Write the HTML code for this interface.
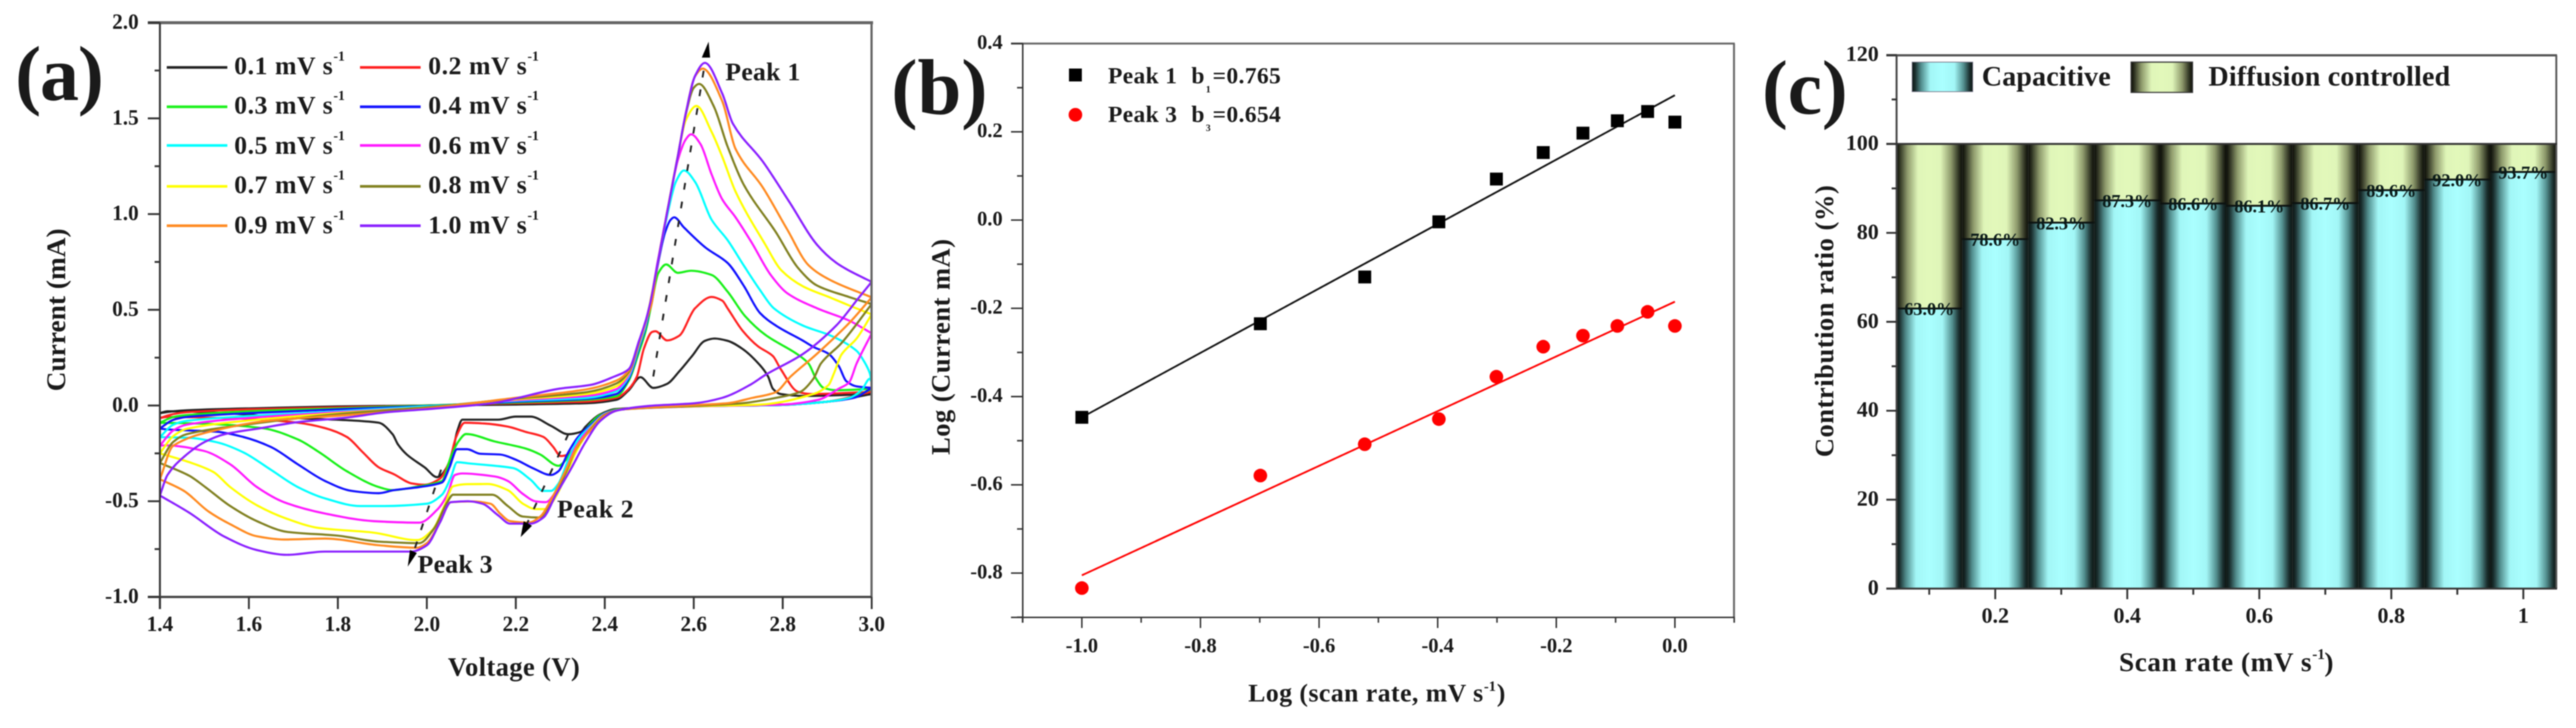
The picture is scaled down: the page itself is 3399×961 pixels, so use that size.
<!DOCTYPE html>
<html lang="en">
<head>
<meta charset="utf-8">
<title>Cyclic voltammetry kinetics figure</title>
<style>
html,body{margin:0;padding:0;background:#fff;width:3399px;height:961px;overflow:hidden}
svg{display:block;filter:blur(0.9px)}
text{font-family:"Liberation Serif",serif;font-weight:bold;fill:#1a1a1a}
</style>
</head>
<body>
<svg id="figure" xmlns="http://www.w3.org/2000/svg" width="3399" height="961" viewBox="0 0 3399 961">
<defs>
<linearGradient id="capGrad" x1="0" x2="1" y1="0" y2="0">
<stop offset="0" stop-color="#0c1512"/><stop offset="0.05" stop-color="#1a2e2e"/><stop offset="0.15" stop-color="#528e8e"/><stop offset="0.3" stop-color="#a2f6f6"/><stop offset="0.5" stop-color="#aaffff"/><stop offset="0.7" stop-color="#a2f6f6"/><stop offset="0.85" stop-color="#528e8e"/><stop offset="0.95" stop-color="#1a2e2e"/><stop offset="1" stop-color="#0c1512"/>
</linearGradient>
<linearGradient id="diffGrad" x1="0" x2="1" y1="0" y2="0">
<stop offset="0" stop-color="#0a0c06"/><stop offset="0.05" stop-color="#2c3020"/><stop offset="0.17" stop-color="#8e9a6c"/><stop offset="0.33" stop-color="#dff5b8"/><stop offset="0.5" stop-color="#e2f8ba"/><stop offset="0.67" stop-color="#dff5b8"/><stop offset="0.83" stop-color="#8e9a6c"/><stop offset="0.95" stop-color="#2c3020"/><stop offset="1" stop-color="#0a0c06"/>
</linearGradient>
<clipPath id="clipA"><rect x="211" y="30" width="939" height="758"/></clipPath>
</defs>

<!-- PANEL A -->
<g id="panelA">
<text x="20" y="132" font-size="103" textLength="117">(a)</text>
<g id="cvCurves" clip-path="url(#clipA)"></g>
<g id="cvLegend"></g>
<line x1="195" x2="1152" y1="30" y2="30" stroke="#666" stroke-width="4"/>
<line x1="1150" x2="1150" y1="30" y2="788" stroke="#666" stroke-width="3"/>
<line x1="211" x2="211" y1="30" y2="804" stroke="#333" stroke-width="2.5"/>
<line x1="195" x2="1150" y1="788" y2="788" stroke="#444" stroke-width="3"/>
<g id="cvTicks"></g>
<text transform="translate(86,409) rotate(-90)" text-anchor="middle" font-size="36" textLength="215">Current (mA)</text>
<text x="591" y="892" font-size="35" textLength="174">Voltage (V)</text>
<text x="957" y="106" font-size="34" textLength="99">Peak 1</text>
<text x="735" y="683" font-size="34" textLength="101">Peak 2</text>
<text x="551" y="756" font-size="34" textLength="99">Peak 3</text>
<g stroke="#222" fill="#000">
<line x1="862" y1="497" x2="931" y2="78" stroke-width="2.5" stroke-dasharray="9 16" fill="none"/>
<polygon points="935,55 926,76 937,76" stroke="none"/>
<line x1="750" y1="573" x2="695" y2="692" stroke-width="2.5" stroke-dasharray="9 16" fill="none"/>
<polygon points="687,709 691,688 702,694" stroke="none"/>
<line x1="582" y1="620" x2="546" y2="728" stroke-width="2.5" stroke-dasharray="9 16" fill="none"/>
<polygon points="538,748 541,726 550,730" stroke="none"/>
</g>
</g>

<!-- PANEL B -->
<g id="panelB">
<text x="1176" y="150" font-size="104" textLength="127">(b)</text>
<line x1="1334" x2="2289" y1="57.5" y2="57.5" stroke="#666" stroke-width="2.5"/>
<line x1="2288" x2="2288" y1="57.5" y2="815" stroke="#666" stroke-width="2.5"/>
<line x1="1349.5" x2="1349.5" y1="57.5" y2="822" stroke="#333" stroke-width="2"/>
<line x1="1334" x2="2289" y1="815" y2="815" stroke="#333" stroke-width="2"/>
<g id="logTicks"></g>
<g id="logMarks"></g>
<text transform="translate(1253,458) rotate(-90)" text-anchor="middle" font-size="35" textLength="285">Log (Current mA)</text>
<text x="1647" y="926" font-size="34" textLength="310">Log (scan rate, mV s</text>
<text x="1958" y="912" font-size="19">-1</text>
<text x="1975" y="926" font-size="34">)</text>
<rect x="1410.5" y="90.5" width="17" height="17" fill="#000"/>
<circle cx="1419" cy="151.5" r="9" fill="#f00"/>
<text x="1462" y="110" font-size="31" textLength="91">Peak 1</text>
<text x="1572" y="110" font-size="31">b</text>
<text x="1591" y="122" font-size="13">1</text>
<text x="1600" y="110" font-size="31" textLength="90">=0.765</text>
<text x="1462" y="161" font-size="31" textLength="91">Peak 3</text>
<text x="1572" y="161" font-size="31">b</text>
<text x="1591" y="173" font-size="13">3</text>
<text x="1600" y="161" font-size="31" textLength="90">=0.654</text>
</g>

<!-- PANEL C -->
<g id="panelC">
<text x="2325" y="150" font-size="102" textLength="113">(c)</text>
<g id="barMarks"></g>
<line x1="2489" x2="3374" y1="73" y2="73" stroke="#555" stroke-width="3"/>
<line x1="3373" x2="3373" y1="73" y2="777" stroke="#555" stroke-width="2.5"/>
<line x1="2502.5" x2="2502.5" y1="73" y2="777" stroke="#444" stroke-width="2.5"/>
<line x1="2489" x2="3374" y1="190" y2="190" stroke="#333" stroke-width="2.5"/>
<line x1="2489" x2="3374" y1="777" y2="777" stroke="#333" stroke-width="2.5"/>
<g id="barTicks"></g>
<rect x="2523" y="82" width="80" height="39" fill="url(#capGrad)" stroke="#778" stroke-width="1"/>
<text x="2615" y="113" font-size="37" textLength="170">Capacitive</text>
<rect x="2812" y="82" width="81" height="40" fill="url(#diffGrad)" stroke="#333" stroke-width="1.5"/>
<text x="2914" y="113" font-size="37" textLength="319">Diffusion controlled</text>
<text transform="translate(2419,424) rotate(-90)" text-anchor="middle" font-size="35" textLength="359">Contribution ratio (%)</text>
<text x="2796" y="886" font-size="36" textLength="254">Scan rate (mV s</text>
<text x="3051" y="870" font-size="20">-1</text>
<text x="3067" y="886" font-size="36">)</text>
</g>
</svg>

<script>
// ---------- Panel (a) data: scan rates and CV branches (volts, mA) ----------
const scanRates = ["0.1","0.2","0.3","0.4","0.5","0.6","0.7","0.8","0.9","1.0"];
const seriesColors = ["#222222","#ff2020","#18f018","#1010ff","#00ffff","#ff18ff","#ffff00","#808020","#ff8a20","#8a20ff"];

const forwardV = [
[1.4,1.43,1.46,1.6,1.8,2.0,2.2,2.36,2.426,2.454,2.48,2.509,2.54,2.568,2.596,2.625,2.647,2.676,2.71,2.749,2.767,2.778,2.795,2.846,3.0],
[1.4,1.43,1.46,1.6,1.8,2.0,2.2,2.36,2.426,2.454,2.472,2.488,2.506,2.514,2.54,2.567,2.603,2.64,2.664,2.676,2.71,2.744,2.778,2.795,2.834,2.863,3.0],
[1.4,1.43,1.46,1.6,1.8,2.0,2.2,2.36,2.426,2.454,2.477,2.492,2.505,2.52,2.538,2.564,2.594,2.64,2.676,2.715,2.761,2.834,2.858,2.875,2.892,2.92,3.0],
[1.4,1.43,1.46,1.6,1.8,2.0,2.2,2.36,2.426,2.454,2.477,2.492,2.505,2.518,2.535,2.548,2.556,2.578,2.627,2.676,2.712,2.749,2.785,2.846,2.869,2.903,2.926,2.943,2.966,3.0],
[1.4,1.43,1.46,1.6,1.8,2.0,2.2,2.36,2.426,2.454,2.477,2.492,2.505,2.518,2.541,2.56,2.578,2.603,2.64,2.676,2.712,2.749,2.78,2.846,2.908,2.966,2.983,2.996,3.0],
[1.4,1.43,1.46,1.6,1.8,2.0,2.2,2.36,2.426,2.454,2.477,2.492,2.505,2.518,2.541,2.564,2.582,2.594,2.615,2.64,2.664,2.694,2.73,2.773,2.81,2.877,2.949,3.0],
[1.4,1.43,1.46,1.6,1.8,2.0,2.2,2.36,2.426,2.454,2.477,2.492,2.505,2.518,2.541,2.564,2.582,2.606,2.64,2.664,2.694,2.761,2.797,2.846,2.908,2.949,3.0],
[1.4,1.43,1.46,1.6,1.8,2.0,2.2,2.36,2.426,2.454,2.477,2.492,2.505,2.518,2.541,2.564,2.582,2.6,2.612,2.645,2.676,2.712,2.785,2.834,2.877,2.949,3.0],
[1.4,1.43,1.528,1.649,1.82,2.0,2.2,2.36,2.426,2.454,2.477,2.492,2.505,2.518,2.541,2.564,2.582,2.603,2.62,2.664,2.694,2.755,2.81,2.858,2.908,3.0],
[1.4,1.417,1.454,1.502,1.545,1.625,1.71,1.82,1.91,1.995,2.146,2.298,2.369,2.42,2.454,2.477,2.492,2.502,2.518,2.541,2.564,2.582,2.603,2.625,2.664,2.688,2.755,2.815,2.877,2.92,2.949,3.0]
];
const forwardI = [
[-.04,-.03,-.025,-.015,-.005,0,.005,.012,.03,.08,.148,.092,.113,.18,.258,.338,.35,.338,.295,.21,.152,.087,.06,.05,.06],
[-.065,-.045,-.035,-.02,-.01,0,.012,.02,.04,.087,.15,.298,.384,.388,.34,.364,.508,.567,.548,.508,.39,.31,.258,.192,.072,.06,.072],
[-.09,-.06,-.05,-.03,-.015,0,.016,.03,.048,.13,.28,.39,.53,.69,.737,.693,.704,.682,.595,.468,.369,.266,.219,.14,.092,.08,.087],
[-.12,-.075,-.06,-.04,-.02,-.003,.02,.035,.06,.14,.3,.41,.55,.72,.9,.97,.983,.93,.824,.745,.627,.483,.417,.338,.306,.27,.206,.127,.1,.092],
[-.165,-.1,-.08,-.055,-.03,-.005,.024,.04,.075,.15,.31,.42,.56,.73,1.0,1.17,1.228,1.168,.971,.864,.733,.603,.508,.417,.365,.286,.23,.167,.12],
[-.21,-.13,-.1,-.065,-.035,-.01,.028,.05,.085,.16,.32,.43,.57,.74,1.02,1.28,1.39,1.417,1.366,1.208,1.077,.983,.852,.682,.587,.508,.444,.377],
[-.25,-.16,-.122,-.078,-.04,-.01,.032,.06,.1,.17,.325,.435,.575,.73,1.02,1.3,1.49,1.565,1.43,1.3,1.117,.84,.706,.622,.563,.523,.476],
[-.3,-.19,-.15,-.098,-.045,-.01,.036,.07,.115,.175,.33,.44,.53,.73,1.02,1.3,1.52,1.66,1.68,1.563,1.353,1.155,.904,.72,.627,.567,.53],
[-.385,-.21,-.128,-.078,-.05,-.015,.04,.085,.13,.183,.335,.44,.53,.73,1.02,1.3,1.525,1.72,1.76,1.59,1.34,1.14,.92,.733,.654,.565],
[-.47,-.363,-.268,-.189,-.15,-.119,-.087,-.063,-.035,-.02,.012,.088,.108,.15,.19,.338,.443,.534,.733,1.02,1.3,1.525,1.722,1.79,1.63,1.472,1.275,1.063,.84,.746,.705,.646]
];
const reverseV = [
[1.4,1.417,1.528,1.71,1.831,1.892,1.923,1.935,1.955,1.995,2.023,2.054,2.068,2.08,2.16,2.2,2.233,2.279,2.318,2.347,2.357,2.39,2.426,2.6,2.8,2.9,3.0],
[1.4,1.417,1.6,1.71,1.771,1.82,1.856,1.892,1.926,1.966,1.995,2.029,2.05,2.066,2.085,2.13,2.182,2.221,2.262,2.284,2.301,2.318,2.335,2.357,2.39,2.43,2.6,2.8,2.9,3.0],
[1.4,1.5,1.63,1.71,1.758,1.82,1.892,1.923,1.983,2.034,2.054,2.071,2.088,2.153,2.221,2.255,2.296,2.313,2.335,2.357,2.39,2.43,2.6,2.8,2.9,2.96,3.0],
[1.4,1.417,1.528,1.587,1.649,1.71,1.771,1.831,1.892,1.926,1.983,2.034,2.051,2.068,2.09,2.12,2.165,2.2,2.238,2.279,2.296,2.318,2.34,2.37,2.403,2.44,2.6,2.8,2.9,2.96,3.0],
[1.4,1.466,1.528,1.587,1.649,1.71,1.771,1.85,1.904,2.0,2.034,2.054,2.068,2.097,2.153,2.194,2.233,2.262,2.279,2.296,2.318,2.34,2.37,2.403,2.44,2.6,2.8,2.9,2.95,2.977,2.996,3.0],
[1.4,1.412,1.497,1.558,1.618,1.679,1.771,1.88,1.983,2.023,2.046,2.063,2.08,2.153,2.182,2.216,2.245,2.267,2.289,2.313,2.335,2.37,2.403,2.44,2.6,2.8,2.88,2.926,2.949,2.966,3.0],
[1.4,1.466,1.52,1.558,1.618,1.686,1.758,1.88,1.978,2.012,2.04,2.059,2.09,2.136,2.182,2.216,2.245,2.267,2.289,2.313,2.335,2.37,2.403,2.44,2.6,2.75,2.869,2.903,2.915,2.932,2.966,3.0],
[1.4,1.466,1.502,1.558,1.618,1.686,1.8,1.892,1.983,2.017,2.046,2.059,2.147,2.182,2.216,2.253,2.279,2.313,2.335,2.37,2.403,2.44,2.6,2.7,2.807,2.84,2.869,2.886,2.932,3.0],
[1.4,1.454,1.509,1.558,1.618,1.679,1.771,1.892,1.978,2.0,2.029,2.054,2.102,2.143,2.165,2.187,2.228,2.255,2.279,2.313,2.34,2.37,2.403,2.44,2.6,2.676,2.732,2.783,2.818,2.875,2.949,3.0],
[1.4,1.466,1.545,1.618,1.686,1.771,1.965,2.0,2.029,2.054,2.092,2.125,2.16,2.187,2.233,2.262,2.29,2.323,2.357,2.39,2.426,2.5,2.603,2.664,2.726,2.761,2.846,2.92,2.971,3.0]
];
const reverseI = [
[-.04,-.03,-.038,-.066,-.078,-.09,-.15,-.203,-.256,-.323,-.374,-.283,-.137,-.074,-.074,-.058,-.058,-.106,-.15,-.137,-.11,-.046,-.018,-.002,.005,.02,.06],
[-.065,-.06,-.07,-.09,-.118,-.164,-.244,-.323,-.359,-.407,-.414,-.383,-.296,-.164,-.09,-.094,-.11,-.137,-.164,-.216,-.264,-.256,-.205,-.125,-.05,-.02,-.003,.005,.02,.072],
[-.09,-.095,-.118,-.177,-.244,-.343,-.426,-.442,-.422,-.394,-.268,-.188,-.149,-.188,-.224,-.256,-.315,-.283,-.205,-.125,-.05,-.02,-.004,.003,.02,.045,.087],
[-.12,-.125,-.137,-.164,-.216,-.307,-.394,-.446,-.458,-.442,-.426,-.402,-.323,-.228,-.228,-.252,-.256,-.283,-.327,-.363,-.343,-.244,-.164,-.098,-.038,-.02,-.004,.003,.02,.04,.092],
[-.165,-.169,-.192,-.244,-.335,-.426,-.485,-.525,-.525,-.513,-.466,-.375,-.296,-.303,-.315,-.327,-.387,-.446,-.446,-.407,-.283,-.177,-.105,-.04,-.02,-.005,.003,.02,.04,.08,.14,.12],
[-.21,-.208,-.236,-.307,-.426,-.505,-.564,-.604,-.612,-.545,-.466,-.363,-.355,-.371,-.394,-.462,-.501,-.505,-.454,-.335,-.216,-.11,-.042,-.02,-.005,.005,.03,.088,.12,.219,.377],
[-.25,-.296,-.347,-.426,-.521,-.592,-.64,-.664,-.703,-.652,-.521,-.422,-.411,-.41,-.442,-.513,-.541,-.541,-.48,-.363,-.244,-.115,-.045,-.02,-.004,.005,.06,.107,.167,.266,.35,.476],
[-.3,-.367,-.426,-.525,-.604,-.66,-.68,-.711,-.719,-.64,-.505,-.466,-.466,-.525,-.58,-.585,-.505,-.347,-.228,-.12,-.046,-.02,-.002,.01,.05,.072,.14,.22,.326,.53],
[-.385,-.446,-.553,-.62,-.683,-.7,-.695,-.73,-.743,-.719,-.612,-.505,-.501,-.513,-.565,-.604,-.612,-.58,-.493,-.335,-.205,-.125,-.05,-.02,.002,.012,.04,.068,.152,.266,.43,.565],
[-.47,-.56,-.685,-.755,-.78,-.763,-.763,-.73,-.613,-.505,-.5,-.513,-.573,-.617,-.617,-.585,-.467,-.335,-.19,-.08,-.027,-.002,.012,.04,.107,.16,.27,.417,.563,.646]
];

const cvYTicks = [-1,-0.5,0,0.5,1,1.5,2];
const cvYTickLabels = ["-1.0","-0.5","0.0","0.5","1.0","1.5","2.0"];
const cvYMinorTicks = [-0.75,-0.25,0.25,0.75,1.25,1.75];
const cvXTicks = [1.4,1.6,1.8,2.0,2.2,2.4,2.6,2.8,3.0];
const cvXTickLabels = ["1.4","1.6","1.8","2.0","2.2","2.4","2.6","2.8","3.0"];

// ---------- Panel (b) data: log-log fit ----------
const logRate = [-1,-0.699,-0.523,-0.398,-0.301,-0.222,-0.155,-0.097,-0.046,0];
const logPeak1 = [-.447,-.235,-.129,-.004,.093,.153,.197,.225,.246,.222];
const logPeak3 = [-.834,-.579,-.508,-.451,-.355,-.287,-.262,-.24,-.208,-.24];
const fitRate = [-1,0];
const fitPeak1 = [-.447,.283];
const fitPeak3 = [-.805,-.185];
const logYTicks = [-0.8,-0.6,-0.4,-0.2,0,0.2,0.4];
const logYTickLabels = ["-0.8","-0.6","-0.4","-0.2","0.0","0.2","0.4"];
const logYMinorTicks = [-0.9,-0.7,-0.5,-0.3,-0.1,0.1,0.3];
const logXTicks = [-1,-0.8,-0.6,-0.4,-0.2,0];
const logXTickLabels = ["-1.0","-0.8","-0.6","-0.4","-0.2","0.0"];
const logXMinorTicks = [-1.1,-0.9,-0.7,-0.5,-0.3,-0.1,0.1];

// ---------- Panel (c) data: contribution ratios ----------
const barRates = [0.1,0.2,0.3,0.4,0.5,0.6,0.7,0.8,0.9,1.0];
const capacitive = [63.0,78.6,82.3,87.3,86.6,86.1,86.7,89.6,92.0,93.7];
const barYTicks = [0,20,40,60,80,100,120];
const barYMinorTicks = [10,30,50,70,90,110];
const barXTicks = [0.2,0.4,0.6,0.8,1];
const barXTickLabels = ["0.2","0.4","0.6","0.8","1"];
const barXMinorTicks = [0.1,0.3,0.5,0.7,0.9];

// ---------- Axis functions ----------
const xA = v => 211 + (v - 1.4) * 587;
const yA = v => 535.3 - v * 252.7;
const xB = v => 2210 + v * 782.5;
const yB = v => 290.5 - v * 582.5;
const xC = v => 2458.5 + v * 871;
const yC = v => 777 - v * 5.87;

const NS = "http://www.w3.org/2000/svg";
function make(tag, attrs, parent, txt) {
  const el = document.createElementNS(NS, tag);
  for (const k in attrs) el.setAttribute(k, attrs[k]);
  if (txt !== undefined) el.textContent = txt;
  parent.appendChild(el);
  return el;
}
function monotonePath(xs, ys) {
  const n = xs.length, d = [], m = [];
  for (let i = 0; i < n - 1; i++) d.push((ys[i + 1] - ys[i]) / (xs[i + 1] - xs[i]));
  m[0] = d[0]; m[n - 1] = d[n - 2];
  for (let i = 1; i < n - 1; i++) {
    m[i] = d[i - 1] * d[i] <= 0 ? 0 : 2 * d[i - 1] * d[i] / (d[i - 1] + d[i]);
  }
  let p = "";
  for (let i = 0; i < n - 1; i++) {
    const h = (xs[i + 1] - xs[i]) / 3;
    p += "C" + (xs[i] + h).toFixed(2) + " " + (ys[i] + m[i] * h).toFixed(2) + " " +
         (xs[i + 1] - h).toFixed(2) + " " + (ys[i + 1] - m[i + 1] * h).toFixed(2) + " " +
         xs[i + 1].toFixed(2) + " " + ys[i + 1].toFixed(2);
  }
  return "M" + xs[0].toFixed(2) + " " + ys[0].toFixed(2) + p;
}

// ---------- Draw panel (a) ----------
const cvCurves = document.getElementById("cvCurves");
const cvLegend = document.getElementById("cvLegend");
const cvTicks = document.getElementById("cvTicks");
scanRates.forEach((rate, i) => {
  const lower = make("path", {d: monotonePath(reverseV[i].map(xA), reverseI[i].map(yA)), fill: "none", stroke: seriesColors[i], "stroke-width": 2.8, "stroke-linejoin": "round"}, cvCurves);
  
  
  const upper = make("path", {d: monotonePath(forwardV[i].map(xA), forwardI[i].map(yA)), fill: "none", stroke: seriesColors[i], "stroke-width": 2.8, "stroke-linejoin": "round"}, cvCurves);
  
  

  const col = i % 2, row = (i - col) / 2;
  const lineY = [89, 141, 192, 246, 298][row];
  const baseY = [98, 150, 203, 255, 308][row];
  const lx = col ? 475 : 220;
  const swatch = make("line", {x1: lx, x2: lx + 80, y1: lineY, y2: lineY, stroke: seriesColors[i], "stroke-width": 3.5}, cvLegend);
  
  
  const tx = col ? 565 : 309;
  const label = make("text", {x: tx, y: baseY, "font-size": 34, textLength: 130}, cvLegend, rate + " mV s");
  
  
  const sup = make("text", {x: tx + 131, y: baseY - 18, "font-size": 18}, cvLegend, "-1");
  
  
});
cvYTicks.forEach((v, i) => {
  const t = make("line", {x1: 195, x2: 211, y1: yA(v), y2: yA(v), stroke: "#333", "stroke-width": 2.5}, cvTicks);
  
  
  const l = make("text", {x: 183, y: yA(v) + 8, "font-size": 28, "text-anchor": "end"}, cvTicks, cvYTickLabels[i]);
  
  
});
cvYMinorTicks.forEach(v => {
  const t = make("line", {x1: 204, x2: 211, y1: yA(v), y2: yA(v), stroke: "#333", "stroke-width": 2.5}, cvTicks);
  
  
});
cvXTicks.forEach((v, i) => {
  const t = make("line", {x1: xA(v), x2: xA(v), y1: 788, y2: 804, stroke: "#333", "stroke-width": 2.5}, cvTicks);
  
  
  const l = make("text", {x: xA(v), y: 833, "font-size": 28, "text-anchor": "middle"}, cvTicks, cvXTickLabels[i]);
  
  
});

// ---------- Draw panel (b) ----------
const logTicks = document.getElementById("logTicks");
const logMarks = document.getElementById("logMarks");
logYTicks.forEach((v, i) => {
  const t = make("line", {x1: 1334, x2: 1350, y1: yB(v), y2: yB(v), stroke: "#333", "stroke-width": 2}, logTicks);
  
  
  const l = make("text", {x: 1323, y: yB(v) + 7, "font-size": 27, "text-anchor": "end"}, logTicks, logYTickLabels[i]);
  
  
});
logYMinorTicks.forEach(v => {
  const t = make("line", {x1: 1342, x2: 1350, y1: yB(v), y2: yB(v), stroke: "#333", "stroke-width": 2}, logTicks);
  
  
});
logXTicks.forEach((v, i) => {
  const t = make("line", {x1: xB(v), x2: xB(v), y1: 815, y2: 829, stroke: "#333", "stroke-width": 2}, logTicks);
  
  
  const l = make("text", {x: xB(v), y: 861, "font-size": 27, "text-anchor": "middle"}, logTicks, logXTickLabels[i]);
  
  
});
logXMinorTicks.forEach(v => {
  const t = make("line", {x1: xB(v), x2: xB(v), y1: 815, y2: 822, stroke: "#333", "stroke-width": 2}, logTicks);
  
  
});
const fit1 = make("line", {x1: xB(fitRate[0]), x2: xB(fitRate[1]), y1: yB(fitPeak1[0]), y2: yB(fitPeak1[1]), stroke: "#111", "stroke-width": 2.4}, logMarks);


const fit3 = make("line", {x1: xB(fitRate[0]), x2: xB(fitRate[1]), y1: yB(fitPeak3[0]), y2: yB(fitPeak3[1]), stroke: "#f00", "stroke-width": 2.4}, logMarks);


logRate.forEach((r, i) => {
  const sq = make("rect", {x: xB(r) - 8.5, y: yB(logPeak1[i]) - 8.5, width: 17, height: 17, fill: "#000"}, logMarks);
  
  
  const dot = make("circle", {cx: xB(r), cy: yB(logPeak3[i]), r: 9, fill: "#f00"}, logMarks);
  
  
});

// ---------- Draw panel (c) ----------
const barMarks = document.getElementById("barMarks");
const barTicks = document.getElementById("barTicks");
barRates.forEach((r, i) => {
  const x0 = xC(r - 0.05), w = xC(r + 0.05) - x0;
  const cap = make("rect", {x: x0, y: yC(capacitive[i]), width: w, height: yC(0) - yC(capacitive[i]), fill: "url(#capGrad)"}, barMarks);
  
  
  const dif = make("rect", {x: x0, y: yC(100), width: w, height: yC(capacitive[i]) - yC(100), fill: "url(#diffGrad)"}, barMarks);
  
  
  const sep = make("line", {x1: x0, x2: x0 + w, y1: yC(capacitive[i]), y2: yC(capacitive[i]), stroke: "#0c1210", "stroke-width": 2.5}, barMarks);
  
  
  const lab = make("text", {x: xC(r), y: yC(capacitive[i]) + 9, "font-size": 24, "text-anchor": "middle", style: "fill:#0a1a18"}, barMarks, capacitive[i].toFixed(1) + "%");
  
  
});
barYTicks.forEach(v => {
  const t = make("line", {x1: 2489, x2: 2503, y1: yC(v), y2: yC(v), stroke: "#333", "stroke-width": 2.5}, barTicks);
  
  
  const l = make("text", {x: 2479, y: yC(v) + 8, "font-size": 29, "text-anchor": "end"}, barTicks, String(v));
  
  
});
barYMinorTicks.forEach(v => {
  const t = make("line", {x1: 2496, x2: 2503, y1: yC(v), y2: yC(v), stroke: "#333", "stroke-width": 2.5}, barTicks);
  
  
});
barXTicks.forEach((v, i) => {
  const t = make("line", {x1: xC(v), x2: xC(v), y1: 777, y2: 791, stroke: "#333", "stroke-width": 2.5}, barTicks);
  
  
  const l = make("text", {x: xC(v), y: 822, "font-size": 29, "text-anchor": "middle"}, barTicks, barXTickLabels[i]);
  
  
});
barXMinorTicks.forEach(v => {
  const t = make("line", {x1: xC(v), x2: xC(v), y1: 777, y2: 785, stroke: "#333", "stroke-width": 2.5}, barTicks);
  
  
});
</script>
</body>
</html>
